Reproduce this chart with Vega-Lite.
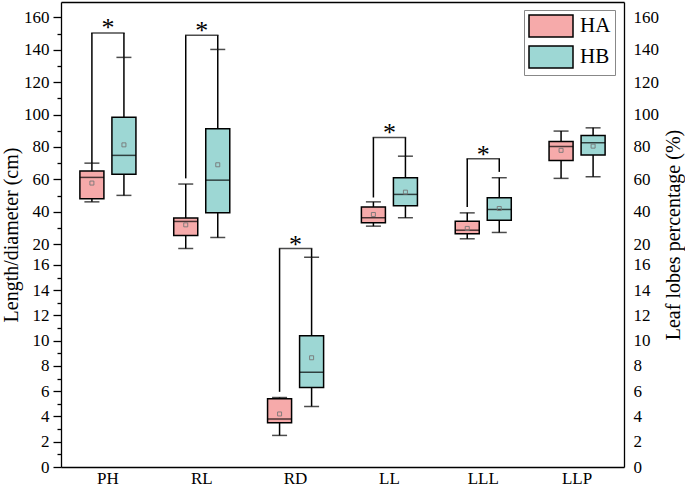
{
  "$schema": "https://vega.github.io/schema/vega-lite/v6.json",
  "width": 563,
  "height": 465,
  "autosize": {"type": "none"},
  "padding": {"left": 61, "top": 2, "right": 61, "bottom": 20},
  "background": "white",
  "config": {
    "font": "Liberation Serif",
    "view": {"stroke": null},
    "axis": {"labelFont": "Liberation Serif", "titleFont": "Liberation Serif", "labelColor": "black", "titleColor": "black", "domainColor": "black", "tickColor": "black", "grid": false, "zindex": 0, "titleFontWeight": "normal"}
  },
  "datasets": {
    "boxes": [
      {"cat": "PH", "grp": "HA", "lo": 46.1, "q1": 48.0, "med": 61.2, "q3": 65.1, "hi": 70.0, "mean": 57.7},
      {"cat": "PH", "grp": "HB", "lo": 50.1, "q1": 63.2, "med": 74.8, "q3": 98.4, "hi": 135.3, "mean": 81.3},
      {"cat": "RL", "grp": "HA", "lo": 17.3, "q1": 25.4, "med": 34.0, "q3": 36.1, "hi": 57.1, "mean": 31.9},
      {"cat": "RL", "grp": "HB", "lo": 24.1, "q1": 39.3, "med": 59.5, "q3": 91.2, "hi": 140.2, "mean": 69.0},
      {"cat": "RD", "grp": "HA", "lo": 2.5, "q1": 3.5, "med": 3.8, "q3": 5.4, "hi": 5.5, "mean": 4.2},
      {"cat": "RD", "grp": "HB", "lo": 4.8, "q1": 6.3, "med": 7.5, "q3": 10.4, "hi": 16.6, "mean": 8.65},
      {"cat": "LL", "grp": "HA", "lo": 31.1, "q1": 33.2, "med": 36.3, "q3": 43.0, "hi": 46.1, "mean": 38.3},
      {"cat": "LL", "grp": "HB", "lo": 36.3, "q1": 43.7, "med": 50.7, "q3": 61.0, "hi": 74.3, "mean": 52.1},
      {"cat": "LLL", "grp": "HA", "lo": 23.3, "q1": 26.4, "med": 28.6, "q3": 34.2, "hi": 39.3, "mean": 29.7},
      {"cat": "LLL", "grp": "HB", "lo": 27.2, "q1": 34.8, "med": 41.4, "q3": 48.6, "hi": 61.0, "mean": 42.0},
      {"cat": "LLP", "grp": "HA", "lo": 60.6, "q1": 71.7, "med": 80.3, "q3": 83.4, "hi": 89.8, "mean": 77.9},
      {"cat": "LLP", "grp": "HB", "lo": 61.6, "q1": 75.0, "med": 82.6, "q3": 87.1, "hi": 91.8, "mean": 80.5}
    ],
    "brackets": [
      {"cat": "PH", "top": 150.3, "star": 156.5},
      {"cat": "RL", "top": 148.9, "star": 154.6},
      {"cat": "RD", "top": 17.3, "star": 22.5},
      {"cat": "LL", "top": 85.9, "star": 91.5},
      {"cat": "LLL", "top": 72.7, "star": 78.1}
    ],
    "legs": [
      {"cat": "PH", "grp": "HA", "y1": 70.0, "y2": 150.3},
      {"cat": "PH", "grp": "HB", "y1": 135.3, "y2": 150.3},
      {"cat": "RL", "grp": "HA", "y1": 60.6, "y2": 148.9},
      {"cat": "RL", "grp": "HB", "y1": 140.2, "y2": 148.9},
      {"cat": "RD", "grp": "HA", "y1": 5.95, "y2": 17.3},
      {"cat": "RD", "grp": "HB", "y1": 16.6, "y2": 17.3},
      {"cat": "LL", "grp": "HA", "y1": 48.8, "y2": 85.9},
      {"cat": "LL", "grp": "HB", "y1": 74.3, "y2": 85.9},
      {"cat": "LLL", "grp": "HA", "y1": 43.0, "y2": 72.7},
      {"cat": "LLL", "grp": "HB", "y1": 64.6, "y2": 72.7}
    ]
  },
  "layer": [
    {
      "layer": [
        {
          "data": {"name": "boxes"},
          "mark": {"type": "rule", "stroke": "black", "strokeWidth": 1.5},
          "encoding": {
            "x": {"field": "cat", "type": "nominal", "title": null, "scale": {"domain": ["PH", "RL", "RD", "LL", "LLL", "LLP"], "paddingInner": 0, "paddingOuter": 0},
                  "axis": {"orient": "bottom", "title": null, "ticks": false, "domain": true, "domainWidth": 1.3, "labelFontSize": 17, "labelAngle": 0, "labelPadding": 3}},
            "xOffset": {"field": "grp", "type": "nominal", "scale": {"domain": ["HA", "HB"], "paddingInner": 0.25, "paddingOuter": 0.59}},
            "y": {"field": "lo", "type": "quantitative", "title": "Length/diameter (cm)", "scale": {"domain": [0, 17.3, 169.5], "range": [465, 246.5, 0], "nice": false, "zero": false},
                  "axis": {"orient": "left", "title": "Length/diameter (cm)", "tickCount": 60,
                           "values": [0, 1, 2, 3, 4, 5, 6, 7, 8, 9, 10, 11, 12, 13, 14, 15, 16, 20, 30, 40, 50, 60, 70, 80, 90, 100, 110, 120, 130, 140, 150, 160],
                           "labelExpr": "(datum.value <= 16 && datum.value % 2 == 0) || (datum.value >= 20 && datum.value % 20 == 0) ? datum.label : ''",
                           "tickSize": {"condition": {"test": "(datum.value <= 16 && datum.value % 2 == 1) || (datum.value >= 20 && datum.value % 20 == 10)", "value": 4}, "value": 8},
                           "tickWidth": 1.3, "domain": true, "domainWidth": 1.3, "labelFontSize": 17, "labelPadding": 4, "titleFontSize": 20, "titlePadding": 2,
                           "labelOverlap": false, "labelBound": false, "labelFlush": false}},
            "y2": {"field": "hi"}
          }
        },
        {
          "data": {"name": "boxes"},
          "mark": {"type": "tick", "color": "black", "size": 15, "thickness": 1.5},
          "encoding": {
            "x": {"field": "cat", "type": "nominal", "title": null, "scale": {"domain": ["PH", "RL", "RD", "LL", "LLL", "LLP"], "paddingInner": 0, "paddingOuter": 0}},
            "xOffset": {"field": "grp", "type": "nominal", "scale": {"domain": ["HA", "HB"], "paddingInner": 0.25, "paddingOuter": 0.59}},
            "y": {"field": "lo", "type": "quantitative", "title": "Length/diameter (cm)", "scale": {"domain": [0, 17.3, 169.5], "range": [465, 246.5, 0], "nice": false, "zero": false}}
          }
        },
        {
          "data": {"name": "boxes"},
          "mark": {"type": "tick", "color": "black", "size": 15, "thickness": 1.5},
          "encoding": {
            "x": {"field": "cat", "type": "nominal", "title": null, "scale": {"domain": ["PH", "RL", "RD", "LL", "LLL", "LLP"], "paddingInner": 0, "paddingOuter": 0}},
            "xOffset": {"field": "grp", "type": "nominal", "scale": {"domain": ["HA", "HB"], "paddingInner": 0.25, "paddingOuter": 0.59}},
            "y": {"field": "hi", "type": "quantitative", "title": "Length/diameter (cm)", "scale": {"domain": [0, 17.3, 169.5], "range": [465, 246.5, 0], "nice": false, "zero": false}}
          }
        },
        {
          "data": {"name": "boxes"},
          "mark": {"type": "bar", "stroke": "black", "strokeWidth": 1.5, "opacity": 1},
          "encoding": {
            "x": {"field": "cat", "type": "nominal", "title": null, "scale": {"domain": ["PH", "RL", "RD", "LL", "LLL", "LLP"], "paddingInner": 0, "paddingOuter": 0}},
            "xOffset": {"field": "grp", "type": "nominal", "scale": {"domain": ["HA", "HB"], "paddingInner": 0.25, "paddingOuter": 0.59}},
            "y": {"field": "q1", "type": "quantitative", "title": "Length/diameter (cm)", "scale": {"domain": [0, 17.3, 169.5], "range": [465, 246.5, 0], "nice": false, "zero": false}},
            "y2": {"field": "q3"},
            "color": {"field": "grp", "type": "nominal", "scale": {"domain": ["HA", "HB"], "range": ["#F6AAAA", "#9DD7D4"]},
                      "legend": {"orient": "none", "legendX": 463, "legendY": 8, "title": null, "symbolType": "M-2,-1H2V1H-2Z", "symbolSize": 484, "symbolOffset": 11,
                                 "symbolStrokeColor": "black", "symbolStrokeWidth": 1.5, "symbolOpacity": 1, "labelFontSize": 21, "labelFont": "Liberation Serif", "labelColor": "black",
                                 "labelOffset": 17, "rowPadding": 3, "padding": 4, "strokeColor": "#888", "fillColor": "white"}}
          }
        },
        {
          "data": {"name": "boxes"},
          "mark": {"type": "tick", "color": "black", "size": 24, "thickness": 1.5},
          "encoding": {
            "x": {"field": "cat", "type": "nominal", "title": null, "scale": {"domain": ["PH", "RL", "RD", "LL", "LLL", "LLP"], "paddingInner": 0, "paddingOuter": 0}},
            "xOffset": {"field": "grp", "type": "nominal", "scale": {"domain": ["HA", "HB"], "paddingInner": 0.25, "paddingOuter": 0.59}},
            "y": {"field": "med", "type": "quantitative", "title": "Length/diameter (cm)", "scale": {"domain": [0, 17.3, 169.5], "range": [465, 246.5, 0], "nice": false, "zero": false}}
          }
        },
        {
          "data": {"name": "boxes"},
          "mark": {"type": "point", "shape": "square", "filled": false, "stroke": "#777777", "strokeWidth": 0.9, "size": 16, "opacity": 1},
          "encoding": {
            "x": {"field": "cat", "type": "nominal", "title": null, "scale": {"domain": ["PH", "RL", "RD", "LL", "LLL", "LLP"], "paddingInner": 0, "paddingOuter": 0}},
            "xOffset": {"field": "grp", "type": "nominal", "scale": {"domain": ["HA", "HB"], "paddingInner": 0.25, "paddingOuter": 0.59}},
            "y": {"field": "mean", "type": "quantitative", "title": "Length/diameter (cm)", "scale": {"domain": [0, 17.3, 169.5], "range": [465, 246.5, 0], "nice": false, "zero": false}}
          }
        },
        {
          "data": {"name": "legs"},
          "mark": {"type": "rule", "stroke": "black", "strokeWidth": 1.5},
          "encoding": {
            "x": {"field": "cat", "type": "nominal", "title": null, "scale": {"domain": ["PH", "RL", "RD", "LL", "LLL", "LLP"], "paddingInner": 0, "paddingOuter": 0}},
            "xOffset": {"field": "grp", "type": "nominal", "scale": {"domain": ["HA", "HB"], "paddingInner": 0.25, "paddingOuter": 0.59}},
            "y": {"field": "y1", "type": "quantitative", "title": "Length/diameter (cm)", "scale": {"domain": [0, 17.3, 169.5], "range": [465, 246.5, 0], "nice": false, "zero": false}},
            "y2": {"field": "y2"}
          }
        },
        {
          "data": {"name": "brackets"},
          "mark": {"type": "tick", "color": "black", "size": 33.5, "thickness": 1.5},
          "encoding": {
            "x": {"field": "cat", "type": "nominal", "title": null, "scale": {"domain": ["PH", "RL", "RD", "LL", "LLL", "LLP"], "paddingInner": 0, "paddingOuter": 0}},
            "y": {"field": "top", "type": "quantitative", "title": "Length/diameter (cm)", "scale": {"domain": [0, 17.3, 169.5], "range": [465, 246.5, 0], "nice": false, "zero": false}}
          }
        },
        {
          "data": {"name": "brackets"},
          "mark": {"type": "text", "text": "*", "font": "Liberation Serif", "fontSize": 26, "color": "black", "baseline": "middle", "dy": 5},
          "encoding": {
            "x": {"field": "cat", "type": "nominal", "title": null, "scale": {"domain": ["PH", "RL", "RD", "LL", "LLL", "LLP"], "paddingInner": 0, "paddingOuter": 0}},
            "y": {"field": "star", "type": "quantitative", "title": "Length/diameter (cm)", "scale": {"domain": [0, 17.3, 169.5], "range": [465, 246.5, 0], "nice": false, "zero": false}}
          }
        }
      ]
    },
    {
      "layer": [
        {
          "mark": {"type": "rect", "fill": "white"},
          "encoding": {
            "x": {"datum": -0.006, "type": "quantitative", "scale": {"domain": [0, 1], "nice": false, "zero": false},
                  "axis": {"orient": "top", "title": null, "labels": false, "ticks": false, "domain": true, "domainWidth": 1.3, "grid": false}},
            "x2": {"datum": 0.006},
            "y": {"datum": 16.65, "type": "quantitative", "scale": {"domain": [0, 17.3, 169.5], "range": [465, 246.5, 0], "nice": false, "zero": false},
                  "axis": {"orient": "right", "title": "Leaf lobes percentage (%)", "tickCount": 60, "values": [0, 2, 4, 6, 8, 10, 12, 14, 16, 20, 40, 60, 80, 100, 120, 140, 160],
                           "ticks": false, "domain": true, "domainWidth": 1.3, "labelFontSize": 17, "labelPadding": 9, "titleFontSize": 20, "titleAngle": 270, "titleBaseline": "top", "titlePadding": 5,
                           "labelOverlap": false, "labelBound": false, "labelFlush": false}},
            "y2": {"datum": 18.2}
          }
        },
        {
          "mark": {"type": "rect", "fill": "white"},
          "encoding": {
            "x": {"datum": 0.994, "type": "quantitative", "scale": {"domain": [0, 1], "nice": false, "zero": false}},
            "x2": {"datum": 1.006},
            "y": {"datum": 16.65, "type": "quantitative", "scale": {"domain": [0, 17.3, 169.5], "range": [465, 246.5, 0], "nice": false, "zero": false}},
            "y2": {"datum": 18.2}
          }
        },
        {
          "mark": {"type": "rule", "stroke": "black", "strokeWidth": 1.3},
          "encoding": {
            "x": {"datum": -0.0165, "type": "quantitative", "scale": {"domain": [0, 1], "nice": false, "zero": false}},
            "x2": {"datum": 0.013},
            "y": {"datum": 17.05, "type": "quantitative", "scale": {"domain": [0, 17.3, 169.5], "range": [465, 246.5, 0], "nice": false, "zero": false}},
            "y2": {"datum": 19.9}
          }
        },
        {
          "mark": {"type": "rule", "stroke": "black", "strokeWidth": 1.3},
          "encoding": {
            "x": {"datum": -0.0165, "type": "quantitative", "scale": {"domain": [0, 1], "nice": false, "zero": false}},
            "x2": {"datum": 0.013},
            "y": {"datum": 16.47, "type": "quantitative", "scale": {"domain": [0, 17.3, 169.5], "range": [465, 246.5, 0], "nice": false, "zero": false}},
            "y2": {"datum": 17.0}
          }
        },
        {
          "mark": {"type": "rule", "stroke": "black", "strokeWidth": 1.3},
          "encoding": {
            "x": {"datum": 0.9858, "type": "quantitative", "scale": {"domain": [0, 1], "nice": false, "zero": false}},
            "x2": {"datum": 1.0155},
            "y": {"datum": 17.05, "type": "quantitative", "scale": {"domain": [0, 17.3, 169.5], "range": [465, 246.5, 0], "nice": false, "zero": false}},
            "y2": {"datum": 19.9}
          }
        },
        {
          "mark": {"type": "rule", "stroke": "black", "strokeWidth": 1.3},
          "encoding": {
            "x": {"datum": 0.9858, "type": "quantitative", "scale": {"domain": [0, 1], "nice": false, "zero": false}},
            "x2": {"datum": 1.0155},
            "y": {"datum": 16.47, "type": "quantitative", "scale": {"domain": [0, 17.3, 169.5], "range": [465, 246.5, 0], "nice": false, "zero": false}},
            "y2": {"datum": 17.0}
          }
        }
      ]
    }
  ],
  "resolve": {"scale": {"x": "independent"}, "axis": {"x": "independent", "y": "independent"}}
}
